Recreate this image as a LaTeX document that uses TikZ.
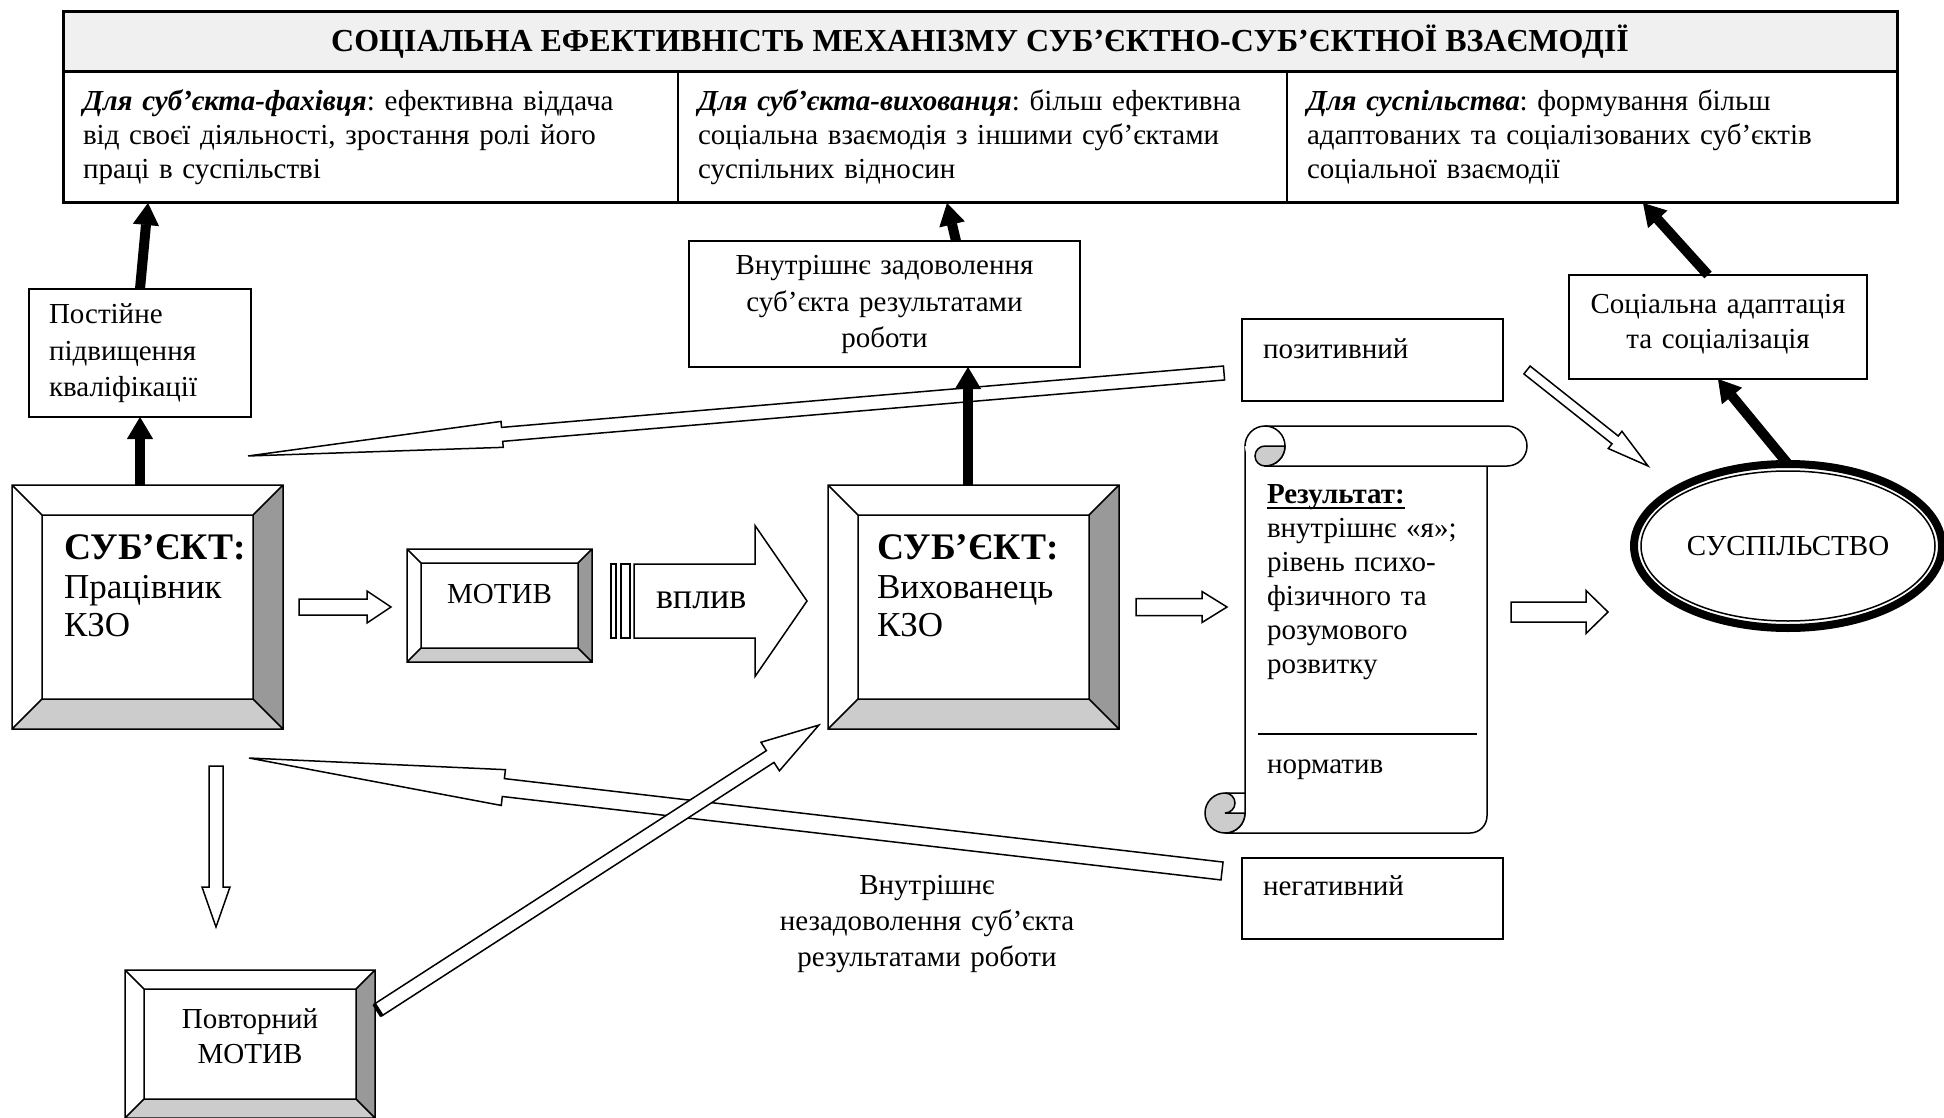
\documentclass[tikz,border=0pt]{standalone}
\usepackage{fontspec}
\setmainfont{Liberation Serif}
\usetikzlibrary{positioning}
\usetikzlibrary{shapes.geometric}
\usetikzlibrary{arrows.meta}
\usetikzlibrary{calc}
\definecolor{bevdark}{gray}{0.6}
\definecolor{bevlight}{gray}{0.8}
\definecolor{titlegray}{gray}{0.94}
\frenchspacing

\newcommand{\bodyfont}{\fontsize{29}{34}\selectfont}
\newcommand{\subjfont}{\fontsize{35}{38.5}\selectfont}
\newcommand{\subjhead}[1]{{\fontsize{37.5}{38.5}\selectfont\bfseries #1}}
\newcommand{\ulined}[1]{\setbox0\hbox{#1}\rlap{\rule[-6pt]{\wd0}{1.8pt}}\box0}

% bevelled frame round an empty node
\newcommand{\bevelbox}[2]{%
  \coordinate (#1-nw) at ($(#1.north west)+(#2,#2)$);
  \coordinate (#1-ne) at ($(#1.north east)+(-#2,#2)$);
  \coordinate (#1-sw) at ($(#1.south west)+(#2,-#2)$);
  \coordinate (#1-se) at ($(#1.south east)+(-#2,-#2)$);
  \fill[white] (#1.north west) rectangle (#1.south east);
  \fill[bevdark] (#1.north east) -- (#1.south east) -- (#1-se) -- (#1-ne) -- cycle;
  \fill[bevlight] (#1.south west) -- (#1.south east) -- (#1-se) -- (#1-sw) -- cycle;
  \draw (#1.north west) rectangle (#1.south east) (#1-nw) rectangle (#1-se)
    (#1.north west) -- (#1-nw) (#1.north east) -- (#1-ne)
    (#1.south west) -- (#1-sw) (#1.south east) -- (#1-se);
}

% hollow block arrow: {tail}{tip}{shaft}{head}{head length}
\newcommand{\blockarrow}[6][]{%
  \draw[hollow,#1] let \p1=#2, \p2=#3,
      \n1={atan2(\y2-\y1,\x2-\x1)}, \n2={veclen(\x2-\x1,\y2-\y1)} in
    [shift={(\p1)},rotate=\n1]
    (0pt,#4pt) -- ({(\n2-#6)*1pt},#4pt) -- ({(\n2-#6)*1pt},#5pt)
    -- ({\n2*1pt},0pt) -- ({(\n2-#6)*1pt},-#5pt)
    -- ({(\n2-#6)*1pt},-#4pt) -- (0pt,-#4pt) -- cycle;
}

\begin{document}
\begin{tikzpicture}[x=1pt, y=-1pt, line width=1.5pt,
    every node/.style = {outer sep=0pt},
    box/.style = {draw, font=\bodyfont, inner xsep=20pt,
      execute at begin node=\strut, execute at end node=\strut},
    col/.style = {box, minimum height=131pt, text width=#1, align=left},
    plate/.style = {inner sep=0pt},
    txt/.style = {font=\bodyfont, inner sep=0pt, execute at begin node=\strut},
    subj/.style = {txt, font=\subjfont, text width=230pt, align=left},
    hollow/.style = {draw, fill=white, line width=1.5pt, line join=miter},
    heavy/.style = {line width=10pt, -{Triangle[length=22pt,width=26pt,line width=1pt]}}]

\useasboundingbox (0,0) rectangle (1944,1118);

% header
\node[draw, fill=titlegray, minimum width=1834pt, minimum height=60pt,
  font=\bfseries\fontsize{32}{36}\selectfont] (title) at (980,42)
  {СОЦІАЛЬНА ЕФЕКТИВНІСТЬ МЕХАНІЗМУ СУБ’ЄКТНО-СУБ’ЄКТНОЇ ВЗАЄМОДІЇ};
\node[col=575pt] (col1) at (370.5,137.5)
  {{\bfseries\itshape Для суб’єкта-фахівця}: ефективна віддача\\від своєї діяльності, зростання ролі його\\праці в суспільстві};
\node[col=569pt] (col2) at (982.5,137.5)
  {{\bfseries\itshape Для суб’єкта-вихованця}: більш ефективна\\соціальна взаємодія з іншими суб’єктами\\суспільних відносин};
\node[col=570pt] (col3) at (1592,137.5)
  {{\bfseries\itshape Для суспільства}: формування більш\\адаптованих та соціалізованих суб’єктів\\соціальної взаємодії};
\draw[line width=3pt] (title.north west) rectangle (col3.south east);
\draw[line width=3pt] (title.south west) -- (title.south east);

% subjects
\node[plate, minimum width=271pt, minimum height=244pt] (prac) at (147.5,607) {};
\bevelbox{prac}{30}
\node[subj, anchor=north west] (pracT) at ($(prac.north west)+(52,48)$)
  {\subjhead{СУБ’ЄКТ:}\\Працівник\\КЗО};

\node[plate, minimum width=291pt, minimum height=244pt] (vyh) at (973.5,607) {};
\bevelbox{vyh}{30}
\node[subj, anchor=north west] (vyhT) at ($(vyh.north west)+(49,48)$)
  {\subjhead{СУБ’ЄКТ:}\\Вихованець\\КЗО};

% motives
\node[plate, minimum width=185pt, minimum height=113pt] (motiv) at (499.5,605.5) {};
\bevelbox{motiv}{14}
\node[font=\bodyfont, inner sep=0pt, anchor=base] (motivT) at ($(motiv.center)+(0,-2.5)$) {МОТИВ};

\node[plate, minimum width=250pt, minimum height=148pt] (povt) at (250,1044) {};
\bevelbox{povt}{19}
\node[txt, font=\fontsize{29}{35}\selectfont, text width=200pt, align=center, anchor=north] (povtT)
  at ($(povt.north)+(0,33.5)$) {Повторний\\МОТИВ};

% plain boxes
\node[box, text width=182pt, align=left, minimum height=128pt,
  font=\fontsize{29}{36.5}\selectfont] (postij) at (140,353) {Постійне\\підвищення\\кваліфікації};
\node[box, text width=351pt, align=center, minimum height=126pt,
  font=\fontsize{29}{36.5}\selectfont] (vnz) at (884.5,304)
  {Внутрішнє задоволення\\суб’єкта результатами\\роботи};
\node[box, text width=288pt, inner xsep=5pt, align=center, minimum height=104pt,
  font=\fontsize{29}{35}\selectfont, execute at end node={\strut\par\vspace{7pt}}] (soc) at (1718,327)
  {Соціальна адаптація\\та соціалізація};
\node[box, text width=219pt, align=left, inner xsep=21pt, inner ysep=10pt,
  text height=29pt, text depth=33pt] (poz) at (1372.5,360) {позитивний};
\node[box, text width=219pt, align=left, inner xsep=21pt, inner ysep=10pt,
  text height=27pt, text depth=34pt] (neg) at (1372.5,898.5) {негативний};

% result scroll
\node[plate, minimum width=242pt, minimum height=387pt] (res) at (1366,639.5) {};
\begin{scope}[shift={(res.north west)}]
  \filldraw[fill=white] (0,0) -- (0,367) arc[start angle=0, end angle=-90, radius=20pt]
    -- (225,387) arc[start angle=-90, end angle=0, radius=17pt] -- (242,20) -- (20,20) -- (20,0) -- cycle;
  \filldraw[fill=bevlight] (-20,367) circle[radius=20pt];
  \filldraw[fill=white] (-20,347) -- (0,347) -- (0,367) -- (-20,367)
    arc[start angle=-90, end angle=90, radius=10pt] -- cycle;
  \filldraw[fill=white] (20,-20) -- (262,-20) arc[start angle=90, end angle=-90, radius=20pt] -- (20,20);
  \fill[white] (20,0) circle[radius=20pt];
  \draw (0,0) arc[start angle=180, end angle=-90, radius=20pt];
  \filldraw[fill=bevlight] (40,0) arc[start angle=0, end angle=-90, radius=20pt]
    arc[start angle=-90, end angle=-270, radius=10pt] -- cycle;
  \draw (13,288) -- (232,288);
\end{scope}
\node[txt, text width=215pt, align=left, anchor=north west] (resT) at ($(res.north west)+(22,33.2)$)
  {\ulined{\textbf{Результат:}}\\внутрішнє «я»;\\рівень психо-\\фізичного та\\розумового\\розвитку};
\node[font=\bodyfont, inner sep=0pt, anchor=base west] (norm) at ($(res.north west)+(22,327)$) {норматив};

% society
\node[ellipse, draw, line width=8pt, minimum width=308pt, minimum height=164pt,
  font=\bodyfont, inner sep=0pt] (susp) at (1788,546) {СУСПІЛЬСТВО};
\draw (susp.center) ellipse [x radius=147pt, y radius=75pt];

\node[txt, font=\fontsize{29}{36}\selectfont, text width=330pt, align=center, anchor=north] (nezad)
  at (927,868.8) {Внутрішнє\\незадоволення суб’єкта\\результатами роботи};

% hollow arrows
\coordinate (a1) at ($(prac.east)+(16,0)$);
\blockarrow{(a1)}{($(a1 -| motiv.west)+(-16,0)$)}{8}{16}{24}

\coordinate (v0) at ($(motiv.east)+(42,-4.5)$);
\blockarrow{(v0)}{($(v0 -| vyh.west)+(-21,0)$)}{37}{75.5}{52}
\draw[hollow] ($(v0)+(-23,-37)$) rectangle ($(v0)+(-18,37)$);
\draw[hollow] ($(v0)+(-13,-37)$) rectangle ($(v0)+(-4,37)$);
\node[font=\fontsize{36}{40}\selectfont, inner sep=0pt, anchor=base west] (vplyv) at ($(v0)+(22,7)$) {вплив};

\coordinate (b0) at ($(vyh.east)+(17,0)$);
\blockarrow{(b0)}{($(b0 -| res.west)+(-18,0)$)}{8.5}{15.5}{25}

\coordinate (c0) at ($(res.east)+(24,-27.5)$);
\blockarrow{(c0)}{($(c0 -| susp.west)+(-26,0)$)}{10}{21.5}{22}

\blockarrow{($(poz.east)+(24,10)$)}{($(susp.west)+(14,-80)$)}{5}{11}{42}
\blockarrow{($(poz.west)+(-18,13)$)}{($(prac.north east)+(-35,-29)$)}{7}{13}{255}
\blockarrow{($(neg.west)+(-20,-27.5)$)}{($(prac.south east)+(-34,29)$)}{9}{18}{256}
\blockarrow{($(prac.south)+(68.5,37)$)}{($(povt.north)+(-34,-43)$)}{7}{14}{40}

\coordinate (n0) at ($(povt.east)+(3,-34)$);
\coordinate (n1) at ($(vyh.south west)+(-9,-4)$);
\blockarrow{(n0)}{(n1)}{7}{17}{58}
\draw[line width=4pt] let \p1=(n0), \p2=(n1), \n1={atan2(\y2-\y1,\x2-\x1)} in
  [shift={(\p1)},rotate=\n1] (0pt,-7pt) -- (0pt,7pt);

% heavy arrows
\draw[heavy] (postij.south |- prac.north) -- (postij.south);
\draw[heavy] (postij.north) -- ($(col1.south west)+(85,0)$);
\coordinate (w1) at ($(vyh.north)+(-5.5,0)$);
\draw[heavy] (w1) -- (w1 |- vnz.south);
\draw[heavy] ($(vnz.north)+(71.5,0)$) -- ($(col2.south west)+(269,0)$);
\draw[heavy] (susp.north) -- (soc.south);
\draw[heavy] ($(soc.north)+(-10,0)$) -- ($(col3.south west)+(356,0)$);

\end{tikzpicture}
\end{document}
